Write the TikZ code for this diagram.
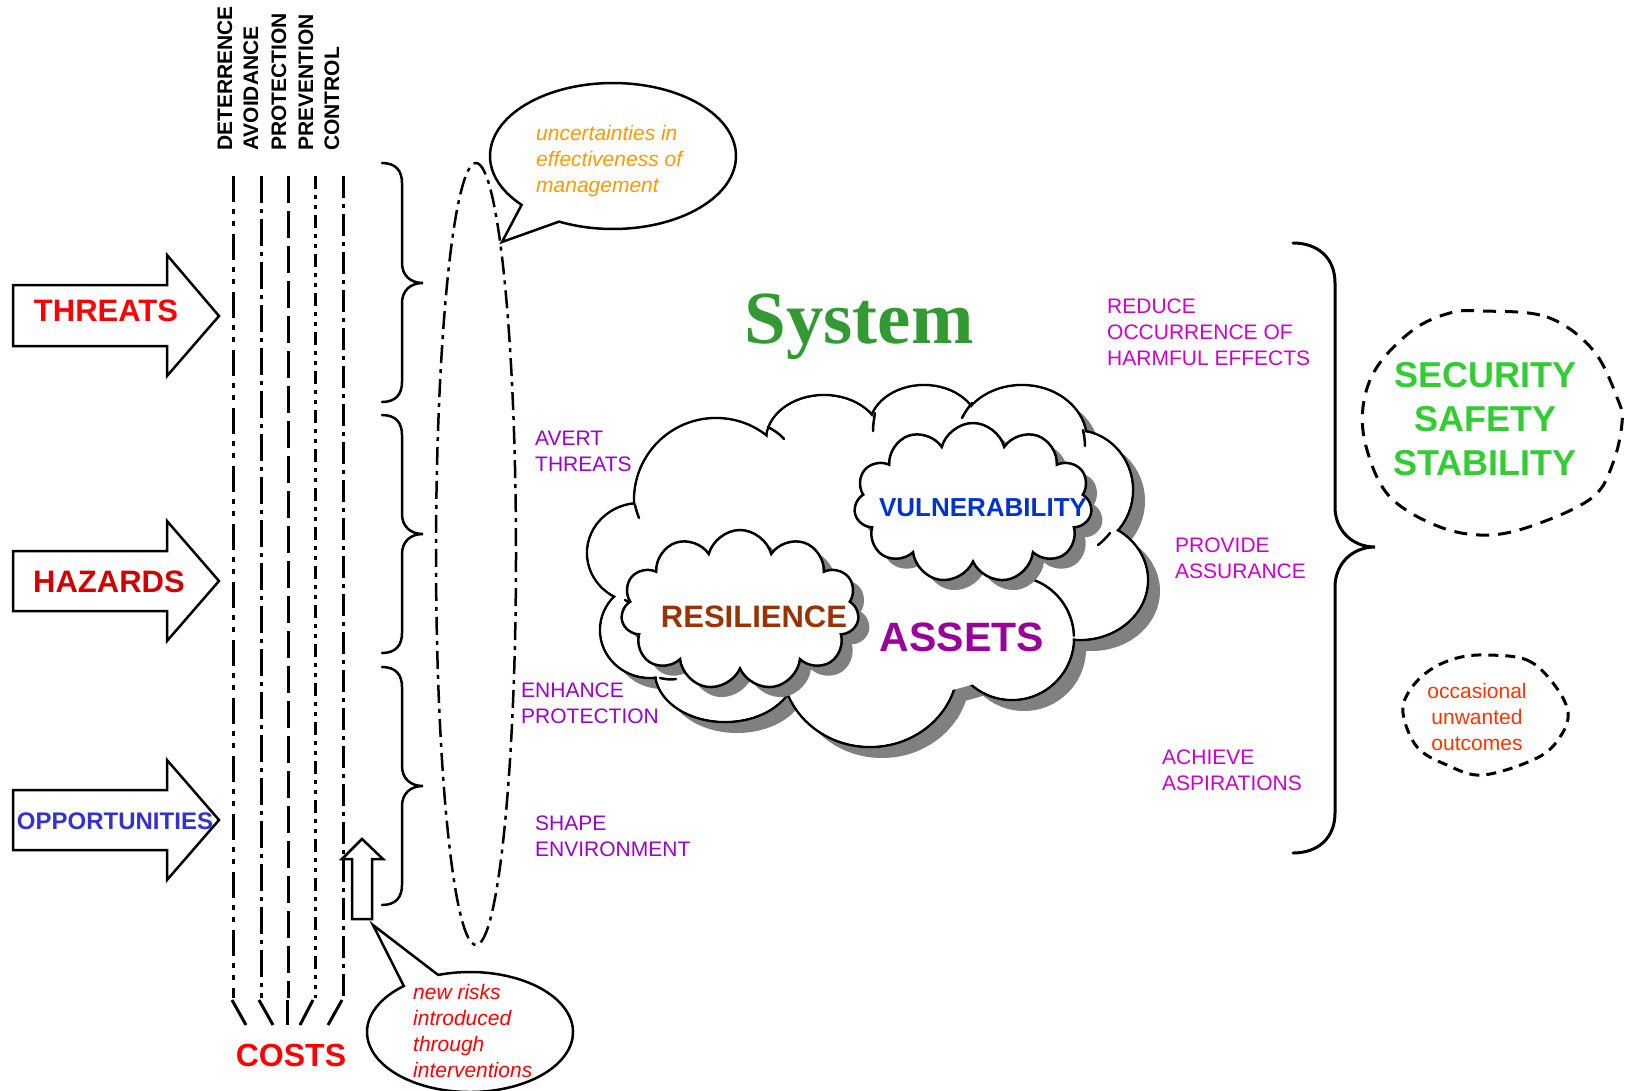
\documentclass[tikz,border=0pt]{standalone}
\usepackage{fontspec}
\setmainfont{Liberation Sans}
\newfontfamily\titlefont{Liberation Serif}
\usetikzlibrary{shapes.symbols}

\definecolor{threatred}{HTML}{FF0000}
\definecolor{hazardred}{HTML}{D00000}
\definecolor{oppblue}{HTML}{3333CC}
\definecolor{uncorange}{HTML}{FF9900}
\definecolor{sysgreen}{HTML}{339933}
\definecolor{resbrown}{HTML}{993300}
\definecolor{vulblue}{HTML}{0033CC}
\definecolor{assetpurple}{HTML}{990099}
\definecolor{actviolet}{HTML}{9900CC}
\definecolor{goalmagenta}{HTML}{CC00CC}
\definecolor{safegreen}{HTML}{33CC33}
\definecolor{outcomered}{HTML}{FF3300}
\definecolor{shadowgray}{HTML}{808080}

\tikzset{
  bigarrow/.style={draw=black, line width=2.5pt, fill=white, line join=miter},
  arrowtext/.style={font=\bfseries\fontsize{31}{36}\selectfont, inner sep=0pt},
  measure/.style={font=\bfseries\fontsize{21}{24}\selectfont, rotate=90, anchor=west, inner sep=0pt},
  mline/.style={line width=3pt},
  bracestroke/.style={line width=2.5pt, line cap=round},
  callout/.style={draw=black, line width=2.5pt, fill=white, line join=miter},
  calltext/.style={font=\itshape\fontsize{21}{26}\selectfont, align=left, inner sep=0pt, anchor=north west},
  lbl/.style={font=\fontsize{21}{26}\selectfont, align=left, inner sep=0pt, anchor=north west},
  smallcloud/.style={cloud, cloud puffs=11, cloud ignores aspect, inner sep=0pt,
    minimum width=238pt, minimum height=160pt},
  stub/.style={line width=2.5pt, line cap=round},
  dashring/.style={draw=black, line width=3pt, dash pattern=on 13pt off 9pt},
}

\begin{document}
\begin{tikzpicture}[x=1pt, y=-1pt]
\useasboundingbox (0,0) rectangle (1628,1090);

% ---------- incoming influences ----------
\draw[bigarrow] (13,285) -- (167,285) -- (167,255) -- (219,316) -- (167,376) -- (167,346) -- (13,346) -- cycle;
\draw[bigarrow] (13,551) -- (167,551) -- (167,521) -- (219,581) -- (167,641) -- (167,611) -- (13,611) -- cycle;
\draw[bigarrow] (13,790) -- (167,790) -- (167,760) -- (219,820) -- (167,880) -- (167,850) -- (13,850) -- cycle;
\node[arrowtext, text=threatred] (threats) at (106,311) {THREATS};
\node[arrowtext, text=hazardred] (hazards) at (109,582) {HAZARDS};
\node[font=\bfseries\fontsize{24}{28}\selectfont, inner sep=0pt, text=oppblue] (opps) at (115,821) {OPPORTUNITIES};

% ---------- management measures ----------
\node[measure] (deter) at (225,151) {DETERRENCE};
\node[measure] (avoid) at (251,151) {AVOIDANCE};
\node[measure] (protect) at (279,151) {PROTECTION};
\node[measure] (prevent) at (306,151) {PREVENTION};
\node[measure] (control) at (332,151) {CONTROL};

\draw[mline, dash pattern=on 26pt off 7pt on 5pt off 7pt on 5pt off 8pt] (233,176) -- (233,998);
\draw[mline, dash pattern=on 27pt off 6pt on 4pt off 6pt] (261,176) -- (261,998);
\draw[mline, dash pattern=on 27pt off 8pt] (288,176) -- (288,998);
\draw[mline, dash pattern=on 13pt off 6pt on 4pt off 6pt on 4pt off 6pt] (315,176) -- (315,998);
\draw[mline, dash pattern=on 22pt off 6pt on 4pt off 6pt] (343,176) -- (343,998);

% ---------- costs ----------
\node[font=\bfseries\fontsize{32}{36}\selectfont, inner sep=0pt, text=threatred] (costs) at (291,1055) {COSTS};
\draw[mline] (232,1000) -- (246,1025);
\draw[mline] (259,1000) -- (273,1025);
\draw[mline] (287,1000) -- (287,1025);
\draw[mline] (313,1000) -- (300,1025);
\draw[mline] (342,1000) -- (328,1025);

% ---------- braces grouping the measures ----------
\foreach \t/\m/\b in {163/283/402, 415/534/653, 667/786/905}{
  \draw[bracestroke] (382,\t) .. controls (396,\t) and (402,\t+8) .. (402,\t+20)
    -- (402,\m-20) .. controls (402,\m-8) and (410,\m) .. (423,\m)
    .. controls (410,\m) and (402,\m+8) .. (402,\m+20)
    -- (402,\b-20) .. controls (402,\b-8) and (396,\b) .. (382,\b);
}

% ---------- new risks arrow ----------
\draw[bigarrow] (352,919) -- (352,859) -- (342,859) -- (362,839) -- (383,859) -- (372,859) -- (372,919) -- cycle;

% ---------- uncertainty envelope ----------
\draw[line width=2.5pt, dash pattern=on 18pt off 6pt on 4pt off 6pt] (476,554) ellipse[x radius=40, y radius=391];

% ---------- callouts ----------
\draw[callout] (613,156) ++(138:123 and 73) arc[start angle=138, end angle=476, x radius=123, y radius=73] -- (502,242) -- cycle;
\node[calltext, text=uncorange] (uncert) at (536,125) {uncertainties in\\effectiveness of\\management};

\draw[callout] (470,1032) ++(252:103 and 60) arc[start angle=252, end angle=590, x radius=103, y radius=60] -- (373,925) -- cycle;
\node[calltext, text=threatred] (newrisk) at (413,984) {new risks\\introduced\\through\\interventions};

% ---------- the system ----------
\node[font=\titlefont\bfseries\fontsize{75}{80}\selectfont, inner sep=0pt, text=sysgreen, anchor=base] (system) at (859,343) {System};

% main cloud: union of puffs, with a drop shadow
\def\puffs{640/553/53/50, 716/500/82/82, 824/440/58/45, 924/428/55/43, 1022/440/65/55, 1075/490/58/60, 1080/580/68/60, 1012/638/62/62, 870/665/88/82, 725/672/70/50, 650/630/50/48}
\fill[shadowgray] foreach \cx/\cy/\rx/\ry in \puffs {(\cx+12,\cy+11) ellipse[x radius=\rx, y radius=\ry]} (877,576) ellipse[x radius=230, y radius=135];
\draw[line width=2.5pt, fill=white] foreach \cx/\cy/\rx/\ry in \puffs {(\cx,\cy) ellipse[x radius=\rx, y radius=\ry]};
\fill[white] foreach \cx/\cy/\rx/\ry in \puffs {(\cx,\cy) ellipse[x radius=\rx-1.4, y radius=\ry-1.4]} (865,565) ellipse[x radius=230, y radius=135];
% inner ends of the puff arcs
\draw[stub] (768,427) .. controls (775,431) and (780,434) .. (784,439);
\draw[stub] (875,413) .. controls (874,419) and (873,425) .. (873,431);
\draw[stub] (972,403) .. controls (968,408) and (965,412) .. (962,418);
\draw[stub] (1083,430) .. controls (1084,435) and (1085,440) .. (1085,446);
\draw[stub] (1110,533) .. controls (1106,538) and (1103,541) .. (1098,545);
\draw[stub] (660,678) .. controls (665,679) and (670,680) .. (676,679);
\draw[stub] (625,600) .. controls (630,603) and (634,605) .. (639,606);
\draw[stub] (635,505) .. controls (636,509) and (637,513) .. (639,518);
\draw[stub] (1012,638) ++(-72:62 and 62) arc[start angle=-72, end angle=-2, radius=62];

\node[smallcloud, fill=shadowgray] (resshadow) at (751,620) {};
\node[smallcloud, draw=black, line width=2.5pt, fill=white] (rescloud) at (740,610) {};
\node[smallcloud, fill=shadowgray] (vulshadow) at (984,513) {};
\node[smallcloud, draw=black, line width=2.5pt, fill=white] (vulcloud) at (973,503) {};

\node[font=\bfseries\fontsize{31}{36}\selectfont, inner sep=0pt, text=resbrown] (resil) at (754,617) {RESILIENCE};
\node[font=\bfseries\fontsize{26}{30}\selectfont, inner sep=0pt, text=vulblue] (vuln) at (983,508) {VULNERABILITY};
\node[font=\bfseries\fontsize{41}{46}\selectfont, inner sep=0pt, text=assetpurple] (assets) at (962,637) {ASSETS};

% ---------- actions ----------
\node[lbl, text=actviolet] (avert) at (535,430.5) {AVERT\\THREATS};
\node[lbl, text=actviolet] (enhance) at (521,682.5) {ENHANCE\\PROTECTION};
\node[lbl, text=actviolet] (shape) at (535,815.5) {SHAPE\\ENVIRONMENT};
\node[lbl, text=goalmagenta] (reduce) at (1107,298.5) {REDUCE\\OCCURRENCE OF\\HARMFUL EFFECTS};
\node[lbl, text=goalmagenta] (provide) at (1175,537.5) {PROVIDE\\ASSURANCE};
\node[lbl, text=goalmagenta] (achieve) at (1162,749.5) {ACHIEVE\\ASPIRATIONS};

% ---------- outcome brace ----------
\draw[line width=3pt, line cap=round] (1293,243) .. controls (1318,243) and (1335,258) .. (1335,283)
  -- (1335,507) .. controls (1335,530) and (1352,547) .. (1375,547)
  .. controls (1352,547) and (1335,564) .. (1335,587)
  -- (1335,813) .. controls (1335,838) and (1318,853) .. (1293,853);

% ---------- outcomes ----------
\draw[dashring] plot[smooth cycle, tension=0.6] coordinates {(1483,311) (1547,317) (1593,350) (1618,400) (1622,423) (1613,463) (1593,497) (1540,523) (1490,535) (1440,527) (1390,497) (1367,450) (1363,407) (1377,367) (1413,330) (1450,313)};
\node[font=\bfseries\fontsize{36}{44}\selectfont, align=center, inner sep=0pt, anchor=north, text=safegreen] (security) at (1485,362) {SECURITY\\SAFETY\\STABILITY};

\draw[line width=3pt, dash pattern=on 10pt off 7pt] plot[smooth cycle, tension=0.6] coordinates {(1487,655) (1527,660) (1553,683) (1568,712) (1560,737) (1537,758) (1483,775) (1447,765) (1417,747) (1403,713) (1410,690) (1430,670) (1457,658)};
\node[font=\fontsize{21}{26}\selectfont, align=center, inner sep=0pt, anchor=north, text=outcomered] (occasional) at (1477,683) {occasional\\unwanted\\outcomes};

\end{tikzpicture}
\end{document}
